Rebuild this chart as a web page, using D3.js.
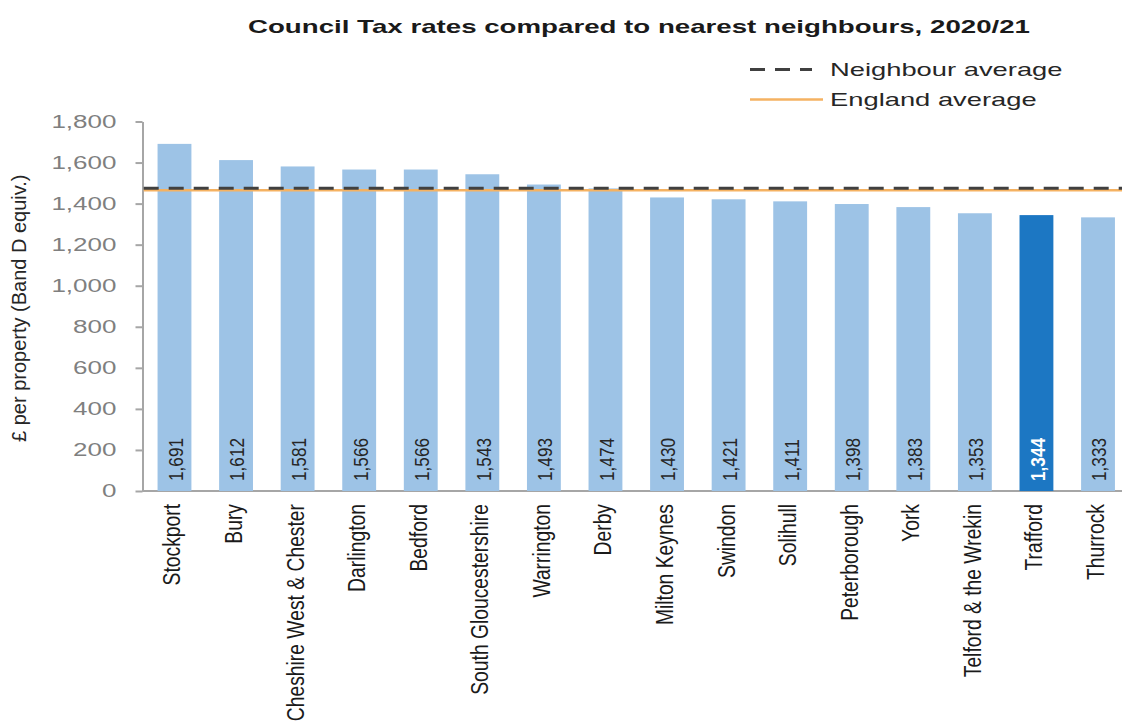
<!DOCTYPE html>
<html>
<head>
<meta charset="utf-8">
<script src="https://cdn.jsdelivr.net/npm/d3@7"></script>
<style>
  body { margin: 0; background: #fff; }
  svg { display: block; font-family: "Liberation Sans", Arial, sans-serif; }
  .y-axis .domain, .y-axis line, .x-axis .domain { stroke: #a6a6a6; stroke-width: 2; }
  .y-axis text { fill: #7f7f7f; font-size: 17.7px; }
</style>
</head>
<body>
<svg></svg>
<script>
// DATA
const authorities = ["Stockport", "Bury", "Cheshire West & Chester", "Darlington", "Bedford",
  "South Gloucestershire", "Warrington", "Derby", "Milton Keynes", "Swindon", "Solihull",
  "Peterborough", "York", "Telford & the Wrekin", "Trafford", "Thurrock"];
const councilTax = [1691, 1612, 1581, 1566, 1566, 1543, 1493, 1474, 1430, 1421, 1411,
  1398, 1383, 1353, 1344, 1333];
const highlighted = "Trafford";
const neighbourAverage = 1475;
const englandAverage = 1465;
const yTicks = [0, 200, 400, 600, 800, 1000, 1200, 1400, 1600, 1800];
const legendItems = ["Neighbour average", "England average"];

// GLOBAL DECLARATIONS
let svg;
let width = 1122;
let height = 725;
let x;
let y;
let rows;

// text in the picture is drawn wider than normal
const wideText = 1.47;
const thickText = 1.2;

setupPage();
drawAxes();
drawBars();
drawAverages();
drawLegend();

function setupPage(){
  rows = authorities.map((name, i) => ({name: name, value: councilTax[i]}));

  svg = d3.select("svg")
    .attr("width", width)
    .attr("height", height);

  x = d3.scaleBand()
    .domain(authorities)
    .range([143.7, 1128.8])
    .paddingInner(0.45)
    .paddingOuter(0.225);

  y = d3.scaleLinear()
    .domain([0, 1800])
    .range([491, 121.5]);

  // title
  svg.append("text")
    .attr("x", 639)
    .attr("y", 32.5)
    .attr("text-anchor", "middle")
    .attr("font-weight", "bold")
    .attr("font-size", 19)
    .attr("fill", "#1a1a1a")
    .attr("textLength", 782)
    .attr("lengthAdjust", "spacingAndGlyphs")
    .text("Council Tax rates compared to nearest neighbours, 2020/21");

  // y axis title
  svg.append("text")
    .attr("transform", `translate(26,${(y(0) + y(1800)) / 2 + 2}) rotate(-90)`)
    .attr("text-anchor", "middle")
    .attr("font-size", 20)
    .attr("fill", "#262626")
    .text("£ per property (Band D equiv.)");
}

function drawAxes(){
  let yAxis = svg.append("g")
    .attr("class", "y-axis")
    .attr("transform", "translate(142.5,0)")
    .call(d3.axisLeft(y)
      .tickValues(yTicks)
      .tickSize(7)
      .tickSizeOuter(0)
      .tickFormat(d3.format(",")));

  yAxis.selectAll("text")
    .attr("x", null)
    .attr("transform", `translate(-26,0) scale(${wideText},1)`);

  // baseline
  svg.append("g")
    .attr("class", "x-axis")
    .attr("transform", `translate(0,${y(0)})`)
    .call(d3.axisBottom(x).tickSize(0).tickFormat(""))
    .select(".domain")
    .attr("d", `M${x.range()[0] - 1.5},0H${width}`);

  // category labels, rotated
  svg.selectAll(".cat-label")
    .data(rows)
    .enter()
    .append("text")
    .attr("class", "cat-label")
    .attr("transform", d => `translate(${x(d.name) + x.bandwidth() / 2},504) rotate(-90) scale(1,${thickText})`)
    .attr("y", 5)
    .attr("text-anchor", "end")
    .attr("font-size", 19.3)
    .attr("fill", "#1a1a1a")
    .text(d => d.name);
}

function drawBars(){
  let bars = svg.selectAll(".bar")
    .data(rows)
    .enter()
    .append("g")
    .attr("class", "bar");

  bars.append("rect")
    .attr("x", d => x(d.name))
    .attr("width", x.bandwidth())
    .attr("y", d => y(d.value))
    .attr("height", d => y(0) - y(d.value))
    .attr("fill", d => d.name == highlighted ? "#1c77c3" : "#9dc3e6");

  // value labels inside the bars
  bars.append("text")
    .attr("transform", d => `translate(${x(d.name) + x.bandwidth() / 2},${y(0) - 10}) rotate(-90) scale(1,${thickText})`)
    .attr("y", 7)
    .attr("font-size", 17.2)
    .attr("font-weight", d => d.name == highlighted ? "bold" : null)
    .attr("fill", d => d.name == highlighted ? "#ffffff" : "#262626")
    .text(d => d3.format(",")(d.value));
}

function drawAverages(){
  svg.append("line")
    .attr("x1", x.range()[0])
    .attr("x2", width)
    .attr("y1", y(englandAverage))
    .attr("y2", y(englandAverage))
    .attr("stroke", "#f5b262")
    .attr("stroke-width", 2.5);

  svg.append("line")
    .attr("x1", x.range()[0])
    .attr("x2", width)
    .attr("y1", y(neighbourAverage))
    .attr("y2", y(neighbourAverage))
    .attr("stroke", "#404040")
    .attr("stroke-width", 3)
    .attr("stroke-dasharray", "15,10");
}

function drawLegend(){
  let legend = svg.selectAll(".legend")
    .data(legendItems)
    .enter()
    .append("g")
    .attr("class", "legend")
    .attr("transform", (d, i) => `translate(750,${69.5 + i * 30})`);

  legend.append("line")
    .attr("x1", 0)
    .attr("x2", (d, i) => i == 0 ? 62 : 73)
    .attr("stroke", (d, i) => i == 0 ? "#404040" : "#f5b262")
    .attr("stroke-width", (d, i) => i == 0 ? 3 : 2.5)
    .attr("stroke-dasharray", (d, i) => i == 0 ? "15,10" : null);

  legend.append("text")
    .attr("transform", `translate(80,6.5) scale(${wideText},1)`)
    .attr("font-size", 18.6)
    .attr("fill", "#262626")
    .text(d => d);
}
</script>
</body>
</html>
